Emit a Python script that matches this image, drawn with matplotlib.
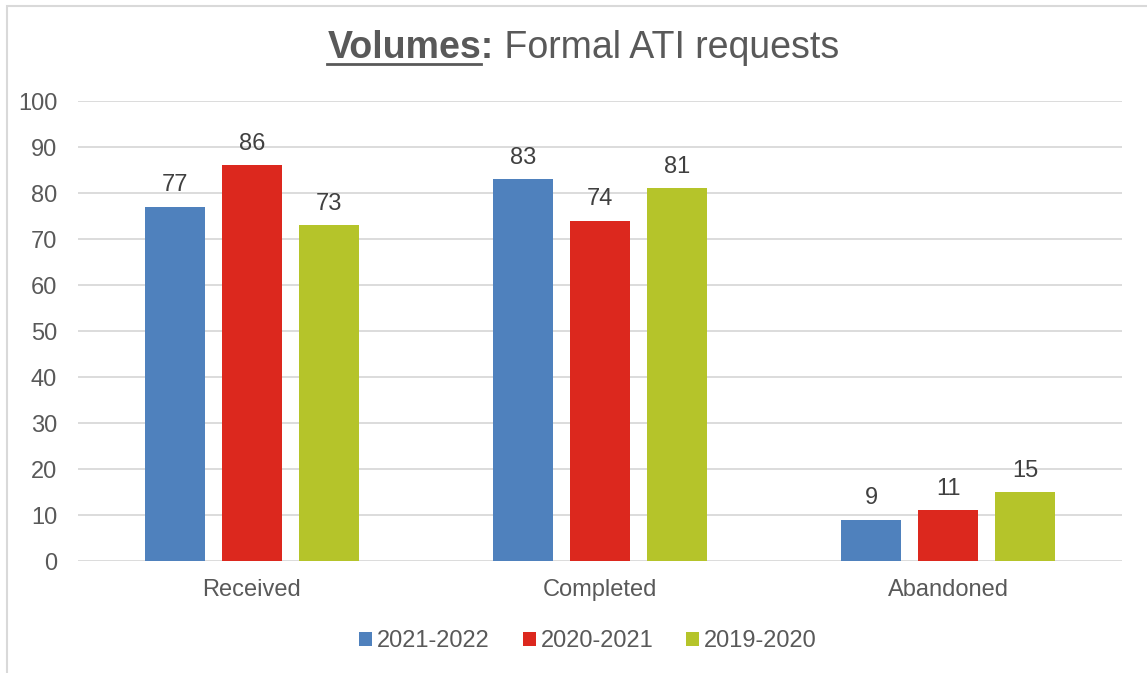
import numpy as np
import matplotlib.pyplot as plt
from matplotlib.patches import Rectangle

categories = ["Received", "Completed", "Abandoned"]
series_names = ["2021-2022", "2020-2021", "2019-2020"]
vals_2122 = [77, 83, 9]
vals_2021 = [86, 74, 11]
vals_1920 = [73, 81, 15]
colors = ["#4F81BD", "#DC281E", "#B5C42A"]

plt.rcParams['font.family'] = ['Liberation Sans', 'DejaVu Sans']
txt = "#595959"

fig = plt.figure(figsize=(11.47, 6.73), dpi=100)
ax = fig.add_axes([78/1147, 1 - 561/673, 1044/1147, 460/673])

# outer chart frame
fig.patches.append(Rectangle((7.5/1147, -0.01), 1.2, 1 - 5.5/673 + 0.01,
                             transform=fig.transFigure, fill=False,
                             edgecolor="#D9D9D9", linewidth=1.5))

x = np.arange(len(categories))
width = 60/348
step = 77/348
for i, (vals, name) in enumerate(zip([vals_2122, vals_2021, vals_1920], series_names)):
    bars = ax.bar(x + (i - 1) * step, vals, width, color=colors[i], label=name, zorder=3)
    for b, v in zip(bars, vals):
        ax.annotate(str(v), (b.get_x() + b.get_width()/2, v), xytext=(0, 7.5),
                    textcoords="offset points", ha="center", va="bottom",
                    fontsize=17, color="#404040")

ax.set_xlim(-0.5, 2.5)
ax.set_ylim(0, 100)
ax.set_yticks(range(0, 101, 10))
ax.set_xticks(x)
ax.set_xticklabels(categories)
ax.tick_params(axis="both", length=0, labelsize=17, colors=txt)
ax.tick_params(axis="y", pad=15)
ax.tick_params(axis="x", pad=13)
ax.grid(axis="y", color="#D9D9D9", linewidth=1.3, zorder=0)
for s in ax.spines.values():
    s.set_visible(False)

leg = fig.legend(loc="center", bbox_to_anchor=(588/1147, 1 - 641/673), ncol=3,
                 frameon=False, fontsize=17, handlelength=0.55, handleheight=0.55,
                 handletextpad=0.2, columnspacing=1.4)
for t in leg.get_texts():
    t.set_color(txt)

# title: bold underlined "Volumes" + regular remainder
fig.canvas.draw()
r = fig.canvas.get_renderer()
ty = 1 - 48/673
t1 = fig.text(0, ty, "Volumes:", fontsize=27, fontweight="bold", color=txt, va="center")
t2 = fig.text(0, ty, " Formal ATI requests", fontsize=27, color=txt, va="center")
t3 = fig.text(0, ty, "Volumes", fontsize=27, fontweight="bold", color=txt, va="center")
w1 = t1.get_window_extent(r).width
w2 = t2.get_window_extent(r).width
w3 = t3.get_window_extent(r).width
t3.remove()
x0 = 583 - (w1 + w2) / 2
t1.set_x(x0 / 1147)
t2.set_x((x0 + w1) / 1147)
uy = 1 - 64/673
fig.add_artist(plt.Line2D([x0/1147, (x0 + w3)/1147], [uy, uy],
                          transform=fig.transFigure, color=txt, linewidth=2))

fig.savefig("out.png", dpi=100)
